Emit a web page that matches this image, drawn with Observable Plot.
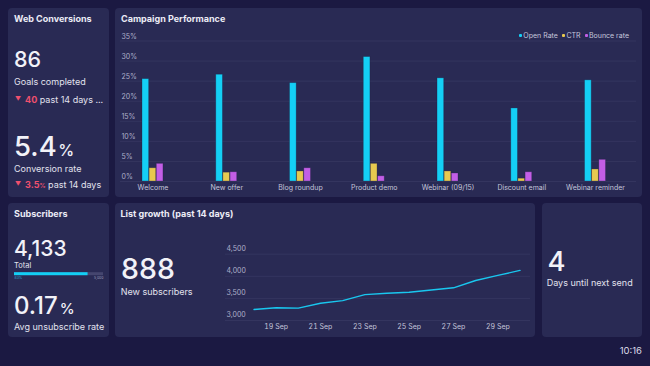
<!DOCTYPE html>
<html><head><meta charset="utf-8">
<script src="https://cdn.jsdelivr.net/npm/d3@7"></script>
<script src="https://cdn.jsdelivr.net/npm/@observablehq/plot@0.6"></script>
<style>
html,body{margin:0;padding:0;background:#1b1942;}
body{font-family:Inter,"Noto Sans",sans-serif;color:#ebebf5;}
#root{position:relative;width:650px;height:366px;overflow:hidden;background:#1b1942;}
.panel{position:absolute;background:#292a54;border-radius:4px;}
.t{position:absolute;white-space:nowrap;}
.big{font-weight:500;color:#f2f2f8;}
.title{font-weight:700;font-size:9px;line-height:9px;color:#ececf6;}
.lbl{font-size:9px;line-height:9px;color:#e2e2ee;}
.red{color:#f0506e;font-weight:700;}
svg{overflow:visible;}
.legend{position:absolute;display:flex;gap:4px;font-size:7px;line-height:7px;color:#c6c7dc;}
.legend span.sw{display:inline-block;width:3px;height:3px;margin-right:1.5px;vertical-align:middle;position:relative;top:-0.5px;border-radius:1px}
</style></head>
<body><div id="root">
<div class="panel" style="left:8px;top:8px;width:101px;height:189px"></div>
<div class="panel" id="pCampaign" style="left:115px;top:8px;width:527px;height:189px"></div>
<div class="panel" style="left:8px;top:203px;width:101px;height:134px"></div>
<div class="panel" id="pGrowth" style="left:115px;top:203px;width:420px;height:134px"></div>
<div class="panel" style="left:542px;top:203px;width:100px;height:134px"></div>

<div class="t title" style="left:14px;top:13.5px">Web Conversions</div>
<div class="t big" id="goals" style="left:14px;top:48.5px;font-size:21.5px;line-height:21.5px"></div>
<div class="t lbl" style="left:14px;top:77px">Goals completed</div>
<div class="t lbl" id="goalsDelta" style="left:15px;top:94.5px"></div>
<div class="t big" id="convRate" style="left:14px;top:133px;font-size:27.5px;line-height:27.5px"></div>
<div class="t lbl" style="left:14px;top:163.8px">Conversion rate</div>
<div class="t lbl" id="convDelta" style="left:15px;top:179.5px"></div>

<div class="t title" style="left:121px;top:13.5px">Campaign Performance</div>
<div class="legend" id="legend" style="right:21px;top:31.8px"></div>

<div class="t title" style="left:14px;top:208.5px">Subscribers</div>
<div class="t big" id="subs" style="left:14px;top:238px;font-size:21px;line-height:21px"></div>
<div class="t" style="left:14px;top:261.5px;font-size:7.5px;line-height:7.5px;color:#e2e2ee">Total</div>
<div class="t" id="prog" style="left:14px;top:270px"></div>
<div class="t big" id="unsub" style="left:14px;top:293.5px;font-size:24px;line-height:24px"></div>
<div class="t lbl" style="left:14px;top:321.5px">Avg unsubscribe rate</div>

<div class="t title" style="left:120.5px;top:208.5px">List growth (past 14 days)</div>
<div class="t big" id="newSubs" style="left:121px;top:254.5px;font-size:28.5px;line-height:28.5px"></div>
<div class="t lbl" style="left:120.7px;top:287.2px">New subscribers</div>

<div class="t big" id="days" style="left:547.5px;top:248px;font-size:27.5px;line-height:27.5px"></div>
<div class="t lbl" style="left:546.7px;top:278.2px">Days until next send</div>

<div class="t" id="clock" style="right:8px;top:345.5px;font-size:9.5px;line-height:9.5px;color:#dcdce8"></div>
</div>
<script>
// ---- KPI values ----
const goalsCompleted = 86;
const goalsDeltaValue = 40;
const conversionRate = 5.4;
const conversionDelta = 3.5;
const subscribersTotal = 4133;
const subscribersGoal = 5000;
const unsubscribeRate = 0.17;
const newSubscribers = 888;
const daysUntilSend = 4;
const clockText = "10:16";

// ---- Campaign performance ----
const categories = ["Welcome","New offer","Blog roundup","Product demo","Webinar (09/15)","Discount email","Webinar reminder"];
const openRate   = [25.5, 26.6, 24.5, 31.0, 25.7, 18.2, 25.2];
const ctr        = [3.3, 2.2, 2.5, 4.4, 2.5, 0.7, 3.0];
const bounceRate = [4.4, 2.3, 3.3, 1.3, 2.0, 2.3, 5.4];
const seriesNames  = ["Open Rate","CTR","Bounce rate"];
const seriesColors = ["#14cff5","#e7c94f","#c25ee6"];
const campaignYTicks = [0,5,10,15,20,25,30,35];

// ---- List growth ----
const growthDates  = ["2023-09-18","2023-09-19","2023-09-20","2023-09-21","2023-09-22","2023-09-23","2023-09-24","2023-09-25","2023-09-26","2023-09-27","2023-09-28","2023-09-29","2023-09-30"];
const growthValues = [3250, 3290, 3280, 3390, 3450, 3585, 3615, 3640, 3690, 3740, 3905, 4020, 4133];
const growthYTicks = [3000, 3500, 4000, 4500];
const growthXTicks = ["2023-09-19","2023-09-21","2023-09-23","2023-09-25","2023-09-27","2023-09-29"];

const fmt = d3.format(",");
const tri = '<span style="font-size:6px;position:relative;top:-1.5px;margin-right:4px;color:#f0506e">▼</span>';
document.getElementById("goals").textContent = goalsCompleted;
document.getElementById("goalsDelta").innerHTML = tri + '<span class="red">' + goalsDeltaValue + '</span> past 14 days ...';
document.getElementById("convRate").innerHTML = conversionRate.toFixed(1) + '<span style="font-size:16px;margin-left:1.5px">%</span>';
document.getElementById("convDelta").innerHTML = tri + '<span class="red">' + conversionDelta.toFixed(1) + '<span style="font-size:6px">%</span></span> past 14 days';
document.getElementById("subs").textContent = fmt(subscribersTotal);
document.getElementById("unsub").innerHTML = unsubscribeRate.toFixed(2) + '<span style="font-size:15px;margin-left:2px">%</span>';
document.getElementById("newSubs").textContent = newSubscribers;
document.getElementById("days").textContent = daysUntilSend;
document.getElementById("clock").textContent = clockText;

// legend
const legend = document.getElementById("legend");
seriesNames.forEach((n,i)=>{
  const s = document.createElement("span");
  s.innerHTML = '<span class="sw" style="background:' + seriesColors[i] + '"></span>' + n;
  legend.appendChild(s);
});

// ---- Bar chart ----
const rows = categories.map((c,i)=>({category:c, open:openRate[i], ctr:ctr[i], bounce:bounceRate[i]}));
const keys = ["open","ctr","bounce"];
const insets = [[26.4,40.7],[33.5,33.6],[40.7,26.4]];
const bar = Plot.plot({
  width:527, height:189,
  marginTop:32.5, marginBottom:16, marginLeft:5, marginRight:6,
  style:{background:"transparent", color:"#c4c5da", fontFamily:"Inter, 'Noto Sans', sans-serif", fontSize:"7px"},
  x:{domain:categories, padding:0, round:false, insetLeft:-4.4, insetRight:4.1, tickSize:0, tickPadding:3.5, label:null},
  y:{domain:[0,35], axis:null},
  marks:[
    Plot.ruleY(campaignYTicks, {stroke:"#34355f", strokeWidth:1}),
    Plot.text(campaignYTicks, {y:d=>d, frameAnchor:"left", textAnchor:"start", dx:1, dy:-4.5, text:d=>d+"%", fill:"#aeafca", fontSize:7}),
    ...keys.map((k,i)=>Plot.barY(rows, {x:"category", y:k, fill:seriesColors[i], stroke:"#1c1c40", strokeOpacity:0.35, strokeWidth:0.8, insetLeft:insets[i][0], insetRight:insets[i][1]}))
  ]
});
bar.style.position="absolute"; bar.style.left="0px"; bar.style.top="0px";
document.getElementById("pCampaign").appendChild(bar);

// ---- Line chart ----
const growth = growthDates.map((d,i)=>({date:new Date(d), value:growthValues[i]}));
const line = Plot.plot({
  width:305, height:97,
  marginTop:13.7, marginBottom:17, marginLeft:0, marginRight:0,
  style:{background:"transparent", color:"#c4c5da", fontFamily:"Inter, 'Noto Sans', sans-serif", fontSize:"7px"},
  x:{type:"utc", domain:[new Date(growthDates[0]), new Date(growthDates[growthDates.length-1])], insetLeft:28.5, insetRight:10.5},
  y:{domain:[3000,4500], axis:null},
  marks:[
    Plot.ruleY(growthYTicks, {stroke:"#34355f", strokeWidth:1}),
    Plot.text(growthYTicks, {y:d=>d, frameAnchor:"left", textAnchor:"start", dx:1, dy:-5.5, text:d=>fmt(d), fill:"#aeafca", fontSize:7}),
    Plot.axisX(growthXTicks.map(d=>new Date(d)), {tickSize:0, tickPadding:3.5, tickFormat:d3.utcFormat("%-d %b"), label:null}),
    Plot.lineY(growth, {x:"date", y:"value", stroke:"#19c7ef", strokeWidth:1.4})
  ]
});
line.style.position="absolute"; line.style.left="110px"; line.style.top="37px";
document.getElementById("pGrowth").appendChild(line);

// ---- Progress bar ----
const prog = Plot.plot({
  width:89, height:10, marginTop:2.2, marginBottom:4.8, marginLeft:0, marginRight:0,
  style:{background:"transparent", fontFamily:"Inter, sans-serif", fontSize:"4px"},
  x:{domain:[0, subscribersGoal], axis:null},
  marks:[
    Plot.barX([subscribersGoal], {x:d=>d, fill:"#45466f"}),
    Plot.barX([subscribersTotal], {x:d=>d, fill:"#13cff5"}),
    Plot.text([0], {x:d=>d, frameAnchor:"bottom", textAnchor:"start", dy:3.3, text:()=>Math.round(subscribersTotal/subscribersGoal*100)+"%", fill:"#2aa9d6", fontSize:3.5}),
    Plot.text([subscribersGoal], {x:d=>d, frameAnchor:"bottom", textAnchor:"end", dy:3.3, text:d=>fmt(d), fill:"#9c9dba", fontSize:3.5})
  ]
});
document.getElementById("prog").appendChild(prog);
</script>
</body></html>
